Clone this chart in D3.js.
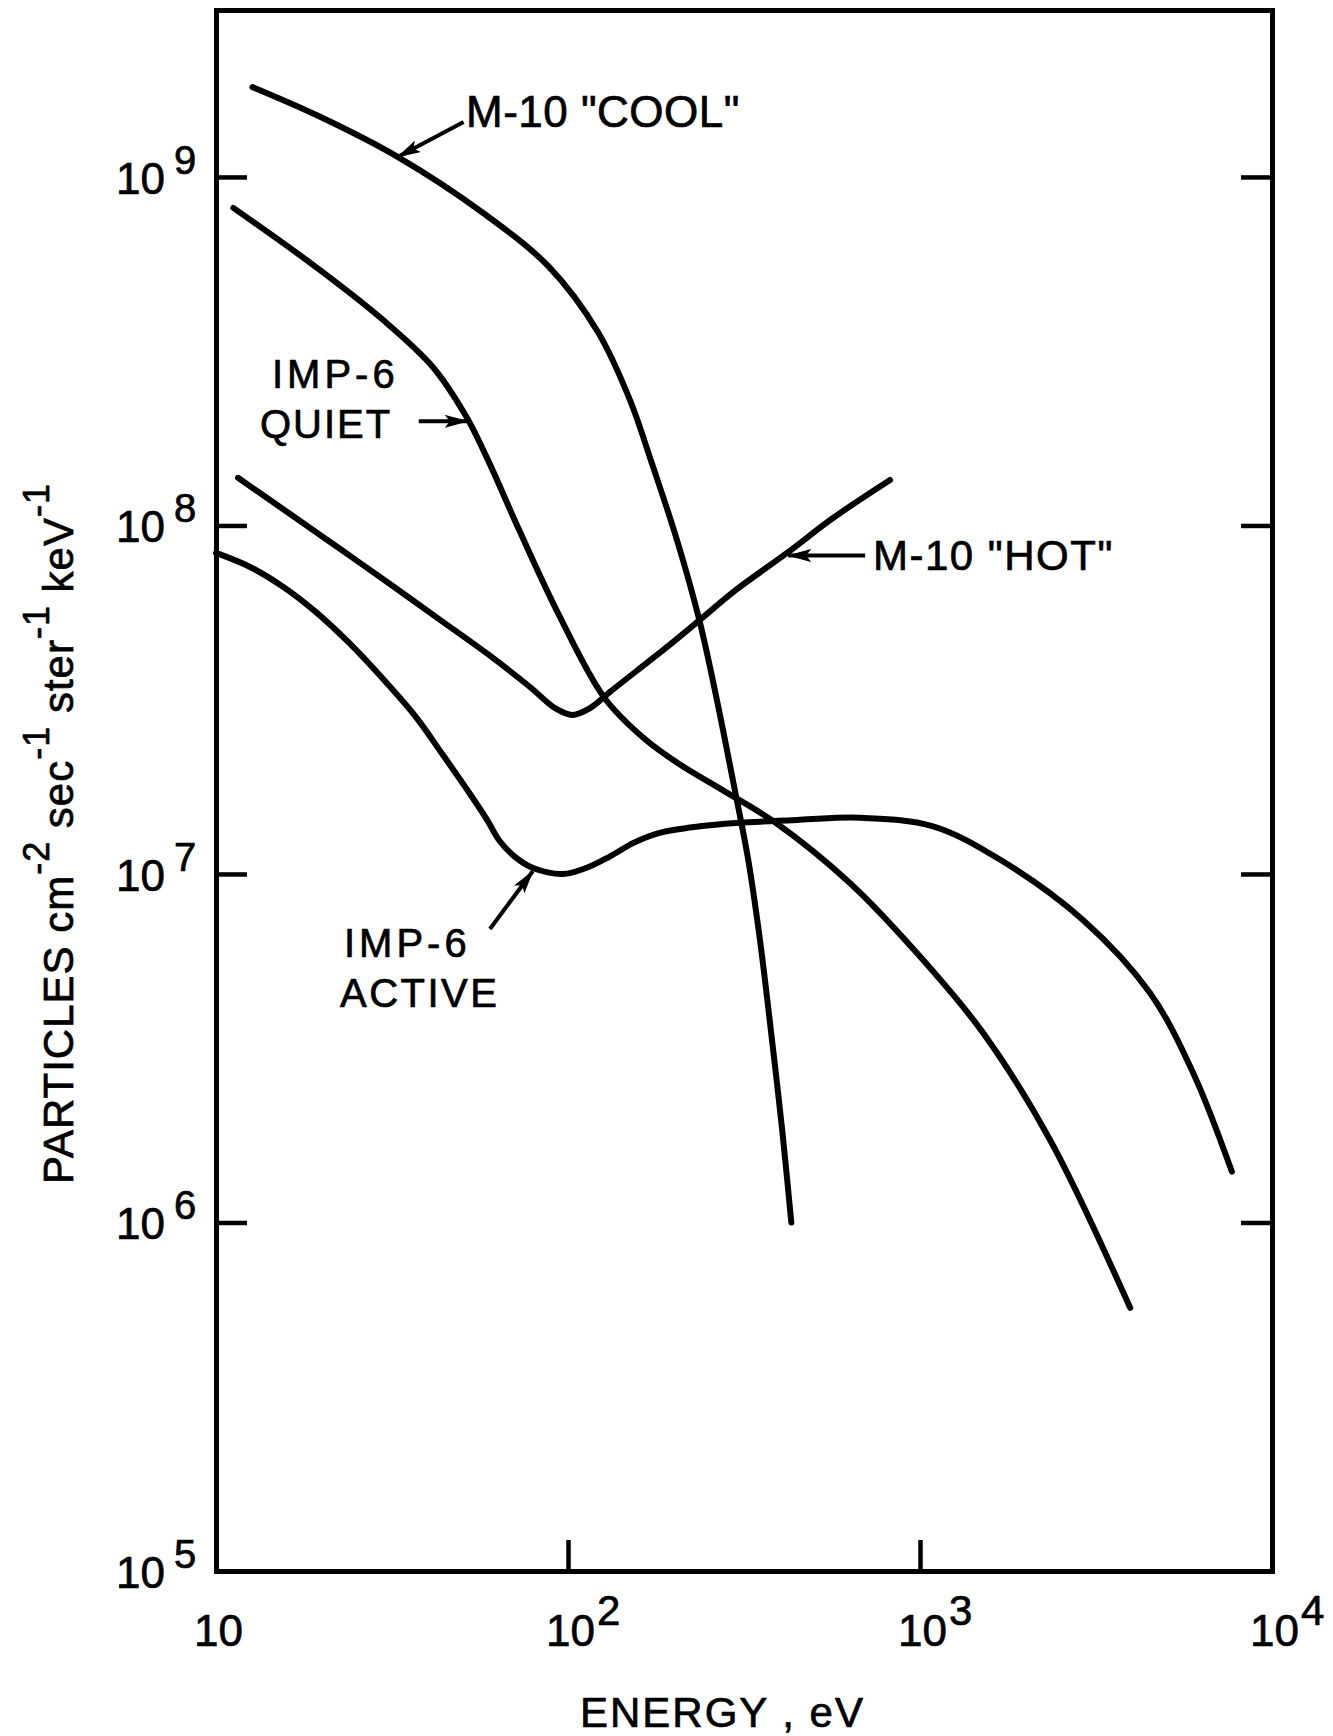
<!DOCTYPE html>
<html>
<head>
<meta charset="utf-8">
<script src="https://cdn.jsdelivr.net/npm/d3@7"></script>
<style>
  body { margin: 0; background: #fff; }
  svg text { font-family: "Liberation Sans", Arial, sans-serif; fill: #000; stroke: #000; stroke-width: 0.7px; }
</style>
</head>
<body>
<div id="chart"></div>
<script>
const W = 1333, H = 1736;
const plotLeft = 216, plotRight = 1272, plotTop = 10, plotBottom = 1571;

// M-10 "COOL"
const coolE = [12.7, 19.7, 32.9, 57.4, 88.3, 121.6, 150, 173, 204, 236, 265, 294, 325, 351, 377, 406, 431];
const coolF = [1.81e9, 1.49e9, 1.14e9, 7.88e8, 5.52e8, 3.59e8, 2.29e8, 1.51e8, 9.08e7, 5.36e7, 3.15e7, 1.86e7, 1.10e7, 6.47e6, 3.56e6, 1.84e6, 1.0e6];

// IMP-6 QUIET
const quietE = [11.2, 19.2, 29.8, 41.3, 51.3, 58.9, 73.1, 94.3, 127, 166, 208, 275, 390, 632, 980, 1511, 2338, 3954];
const quietF = [8.15e8, 5.52e8, 3.89e8, 2.85e8, 2.06e8, 1.56e8, 9.57e7, 5.53e7, 3.20e7, 2.43e7, 2.06e7, 1.74e7, 1.40e7, 9.42e6, 5.93e6, 3.50e6, 1.73e6, 5.69e5];

// M-10 "HOT"
const hotE = [11.55, 16.2, 22.5, 31.2, 43.3, 60.0, 78.0, 91.9, 103, 115.5, 131.6, 190, 237, 300, 419, 566, 822];
const hotF = [1.37e8, 1.08e8, 8.57e7, 6.79e7, 5.36e7, 4.23e7, 3.44e7, 2.99e7, 2.86e7, 2.99e7, 3.33e7, 4.46e7, 5.36e7, 6.53e7, 8.34e7, 1.05e8, 1.35e8];

// IMP-6 ACTIVE
const activeE = [10, 12.5, 15.5, 19.2, 23.9, 29.8, 37.0, 44.2, 52.4, 58.9, 63.7, 70.7, 79.6, 96.8, 112.5, 131, 154, 181, 237, 300, 456, 676, 1089, 1686, 2904, 4498, 5967, 7690];
const activeF = [8.34e7, 7.60e7, 6.67e7, 5.65e7, 4.60e7, 3.63e7, 2.82e7, 2.19e7, 1.71e7, 1.43e7, 1.25e7, 1.12e7, 1.04e7, 1.0e7, 1.04e7, 1.12e7, 1.23e7, 1.31e7, 1.37e7, 1.40e7, 1.43e7, 1.45e7, 1.37e7, 1.10e7, 7.38e6, 4.56e6, 2.69e6, 1.40e6];

const xTickValues = [10, 100, 1000, 10000];
const xTickExp = ["", "2", "3", "4"];
const yTickValues = [1e5, 1e6, 1e7, 1e8, 1e9];
const yTickExp = ["5", "6", "7", "8", "9"];

const x = d3.scaleLog().domain([10, 1e4]).range([plotLeft, plotRight]);
const y = d3.scaleLog().domain([1e5, Math.pow(10, 9.479)]).range([plotBottom, plotTop]);

const svg = d3.select("#chart")
                .append("svg")
                .attr("width", W)
                .attr("height", H);

svg.append("rect").attr("width", W).attr("height", H).attr("fill", "#fff");

// frame + inward ticks
const tick = 31;
svg.append("g")
    .attr("transform", "translate(" + plotLeft + ",0)")
    .call(d3.axisLeft(y).tickValues([1e6, 1e7, 1e8, 1e9]).tickSizeInner(-tick).tickSizeOuter(0).tickFormat(""));
svg.append("g")
    .attr("transform", "translate(" + plotRight + ",0)")
    .call(d3.axisRight(y).tickValues([1e6, 1e7, 1e8, 1e9]).tickSizeInner(-tick).tickSizeOuter(0).tickFormat(""));
svg.append("g")
    .attr("transform", "translate(0," + plotBottom + ")")
    .call(d3.axisBottom(x).tickValues([100, 1000]).tickSizeInner(-tick).tickSizeOuter(0).tickFormat(""));
svg.append("g")
    .attr("transform", "translate(0," + plotTop + ")")
    .call(d3.axisTop(x).tickValues([]).tickSizeOuter(0));

svg.selectAll(".domain").attr("stroke", "#000").attr("stroke-width", 5).attr("stroke-linecap", "square");
svg.selectAll(".tick line").attr("stroke", "#000").attr("stroke-width", 4.5);

// y tick labels
const ylab = svg.selectAll(".ylab")
    .data(yTickValues)
    .enter()
    .append("text")
    .attr("class", "ylab")
    .attr("x", 116)
    .attr("y", d => y(d) + 17)
    .style("font-size", "44px");
ylab.append("tspan").text("10");
ylab.append("tspan")
    .attr("dx", 9)
    .attr("dy", -20)
    .style("font-size", "40px")
    .text((d, i) => yTickExp[i]);

// x tick labels
const xlab = svg.selectAll(".xlab")
    .data(xTickValues)
    .enter()
    .append("text")
    .attr("class", "xlab")
    .attr("x", d => x(d) - 22)
    .attr("y", 1646)
    .style("font-size", "44px");
xlab.append("tspan").text("10");
xlab.append("tspan")
    .attr("dx", 2)
    .attr("dy", -21)
    .style("font-size", "42px")
    .text((d, i) => xTickExp[i]);

// axis titles
svg.append("text")
    .attr("x", 580)
    .attr("y", 1727)
    .style("font-size", "42px")
    .style("letter-spacing", "2px")
    .text("ENERGY , eV");

const yt = svg.append("text")
    .attr("transform", "translate(73,1184) rotate(-90)")
    .style("font-size", "42px")
    .style("letter-spacing", "1px");
const ytParts = [["PARTICLES cm", ""], ["-2", "sup"], [" sec", ""], ["-1", "sup"], [" ster", ""], ["-1", "sup"], [" keV", ""], ["-1", "sup"]];
let raised = false;
ytParts.forEach(p => {
    const t = yt.append("tspan").text(p[0]);
    if (p[1] === "sup") {
        t.attr("dy", -24).style("font-size", "36px");
        raised = true;
    } else if (raised) {
        t.attr("dy", 24);
        raised = false;
    }
});

// curves
const series = [
    { e: coolE, f: coolF },
    { e: quietE, f: quietF },
    { e: hotE, f: hotF },
    { e: activeE, f: activeF }
];

const line = d3.line()
    .x(d => x(d[0]))
    .y(d => y(d[1]))
    .curve(d3.curveCatmullRom.alpha(0.5));

svg.selectAll(".curve")
    .data(series)
    .enter()
    .append("path")
    .attr("class", "curve")
    .attr("d", s => line(s.e.map((v, i) => [v, s.f[i]])))
    .attr("fill", "none")
    .attr("stroke", "#000")
    .attr("stroke-width", 6)
    .attr("stroke-linecap", "round")
    .attr("stroke-linejoin", "round");

// arrows and labels
svg.append("defs").append("marker")
    .attr("id", "head")
    .attr("markerUnits", "userSpaceOnUse")
    .attr("viewBox", "0 0 24 13")
    .attr("refX", 23)
    .attr("refY", 6.5)
    .attr("markerWidth", 24)
    .attr("markerHeight", 13)
    .attr("orient", "auto")
    .append("path")
    .attr("d", "M0,0 L24,6.5 L0,13 L5,6.5 Z")
    .attr("fill", "#000");

const arrows = [
    { tip: [32.8, 1.14e9], dx: 66, dy: -35 },
    { tip: [51.9, 1.99e8], dx: -49, dy: 0 },
    { tip: [422, 8.2e7], dx: 77, dy: 0 },
    { tip: [79.5, 1.02e7], dx: -43, dy: 58 }
];

svg.selectAll(".arrow")
    .data(arrows)
    .enter()
    .append("line")
    .attr("class", "arrow")
    .attr("x1", d => x(d.tip[0]) + d.dx)
    .attr("y1", d => y(d.tip[1]) + d.dy)
    .attr("x2", d => x(d.tip[0]))
    .attr("y2", d => y(d.tip[1]))
    .attr("stroke", "#000")
    .attr("stroke-width", 4)
    .attr("marker-end", "url(#head)");

const labels = [
    { text: 'M-10 "COOL"', x: 466, y: 127, size: 44, ls: 0.5 },
    { text: "IMP-6", x: 272, y: 388, size: 40, ls: 4 },
    { text: "QUIET", x: 260, y: 438, size: 40, ls: 2 },
    { text: 'M-10 "HOT"', x: 873, y: 570, size: 42, ls: 1.5 },
    { text: "IMP-6", x: 344, y: 957, size: 40, ls: 4 },
    { text: "ACTIVE", x: 340, y: 1007, size: 40, ls: 2.5 }
];

svg.selectAll(".label")
    .data(labels)
    .enter()
    .append("text")
    .attr("class", "label")
    .attr("x", d => d.x)
    .attr("y", d => d.y)
    .style("font-size", d => d.size + "px")
    .style("letter-spacing", d => d.ls + "px")
    .text(d => d.text);
</script>
</body>
</html>
